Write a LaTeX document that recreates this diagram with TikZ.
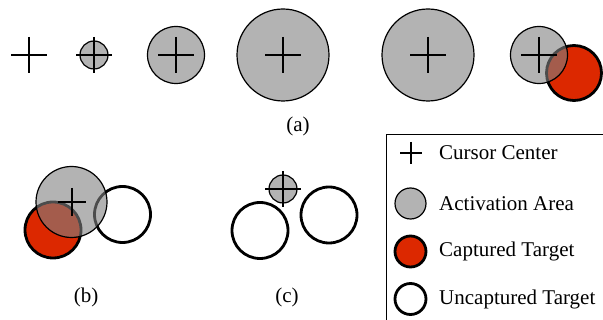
\documentclass[tikz,border=0pt]{standalone}
\usepackage{fontspec}
\setmainfont{Liberation Serif}
\definecolor{actgray}{RGB}{128,128,128}
\definecolor{capred}{RGB}{220,40,0}
\begin{document}
\begin{tikzpicture}[x=1pt,y=-1pt,
  every node/.style={font=\fontsize{21}{25}\selectfont},
  crossmark/.style={minimum size=#1, inner sep=0pt, outer sep=0pt,
    path picture={\draw[line width=1.3pt,black]
      (path picture bounding box.west) -- (path picture bounding box.east)
      (path picture bounding box.north) -- (path picture bounding box.south);}},
  crossmark/.default=36pt,
  actarea/.style={circle, inner sep=0pt, minimum size=#1, draw=black, line width=1.2pt,
    fill=actgray, fill opacity=0.6, draw opacity=1},
  captarget/.style={circle, inner sep=0pt, minimum size=#1, draw=black, line width=2.8pt, fill=capred},
  freetarget/.style={circle, inner sep=0pt, minimum size=#1, draw=black, line width=2.8pt, fill=white},
  lbl/.style={inner sep=0pt, anchor=west}
]
\useasboundingbox (0,0) rectangle (603,320);
\clip (0,0) rectangle (603,320);
% (a) row
\node[crossmark] (c1) at (29,55) {};
\node[actarea=28pt] (a2) at (94,55) {};
\node[crossmark] (c2) at (94,55) {};
\node[actarea=57pt] (a3) at (176,55) {};
\node[crossmark] (c3) at (176,55) {};
\node[actarea=92pt] (a4) at (283,55) {};
\node[crossmark] (c4) at (283,55) {};
\node[actarea=92pt] (a5) at (428,55) {};
\node[crossmark] (c5) at (428,55) {};
\node[captarget=55pt] (r6) at (574,73) {};
\node[actarea=57pt] (a6) at (539,55) {};
\node[crossmark] (c6) at (539,55) {};
\node (la) at (298,126) {(a)};
% (b)
\node[captarget=56pt] (rb) at (53,230) {};
\node[freetarget=56pt] (wb) at (122.5,214.5) {};
\node[actarea=71pt] (ab) at (71.5,202) {};
\node[crossmark=28pt] (cb) at (72,202) {};
\node (lb) at (86,297) {(b)};
% (c)
\node[freetarget=56pt] (wc1) at (260,230.5) {};
\node[freetarget=56pt] (wc2) at (329,215) {};
\node[actarea=28pt] (ac) at (283,189) {};
\node[crossmark] (cc) at (283,189) {};
\node (lc) at (287,297) {(c)};
% legend
\node[draw=black, line width=1.2pt, minimum width=260pt, minimum height=220pt, anchor=north west, inner sep=0pt] (legend) at (386,134) {};
\node[crossmark=22pt] (k1) at (411,153) {};
\node[lbl] (t1) at (439,153) {Cursor Center};
\node[actarea=31pt] (k2) at (410.5,203.5) {};
\node[lbl] (t2) at (439,203.5) {Activation Area};
\node[captarget=31pt] (k3) at (410.5,251.5) {};
\node[lbl] (t3) at (439,251.5) {Captured Target};
\node[freetarget=31pt] (k4) at (410.5,299) {};
\node[lbl] (t4) at (439,299) {Uncaptured Target};
\end{tikzpicture}
\end{document}
